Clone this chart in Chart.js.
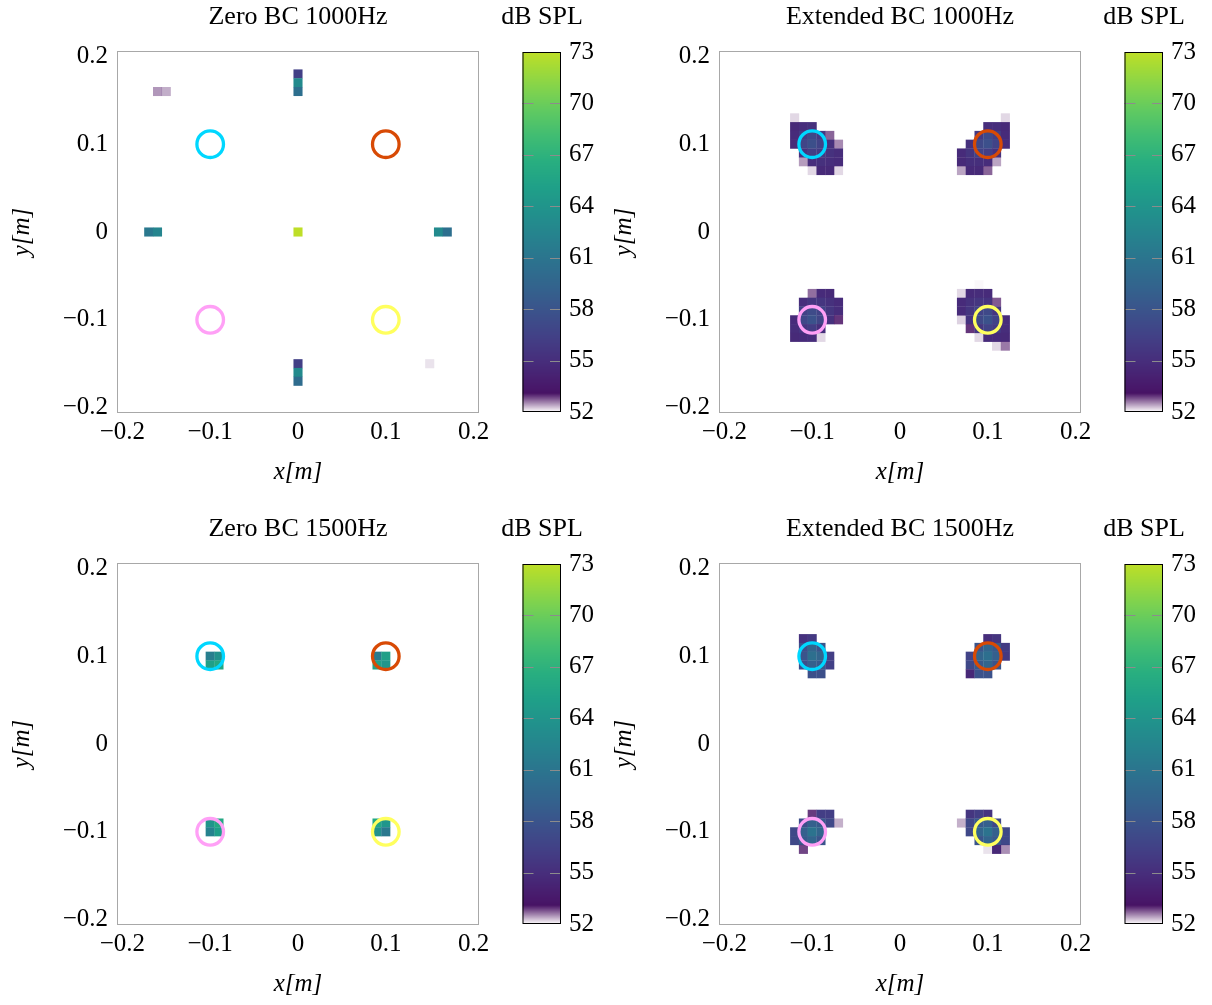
<!DOCTYPE html>
<html><head><meta charset="utf-8">
<script src="https://cdn.jsdelivr.net/npm/chart.js@4.4.0/dist/chart.umd.min.js"></script>
<style>
html,body{margin:0;padding:0;background:#fff;}
#wrap{position:relative;width:1212px;height:1005px;overflow:hidden;background:#fff;}
canvas{position:absolute;}
</style></head><body><div id="wrap"></div>
<script>
// ---- data ----
const axisTicks = [-0.2, -0.1, 0, 0.1, 0.2];
const axisTickLabels = ['−0.2', '−0.1', '0', '0.1', '0.2'];
const colorbarTicks = [52, 55, 58, 61, 64, 67, 70, 73];
const panelTitles = ['Zero BC 1000Hz', 'Extended BC 1000Hz', 'Zero BC 1500Hz', 'Extended BC 1500Hz'];
const sourceX = [-0.1, 0.1, -0.1, 0.1];
const sourceY = [0.1, 0.1, -0.1, -0.1];
const sourceColors = ['#00d7ff', '#d84a05', '#ffa0f6', '#ffff5e'];

// cells: [x, y, dB SPL]
const zeroBC1000 = [
  [0, 0.18, 56.4], [0, 0.17, 63.0], [0, 0.16, 60.5],
  [-0.16, 0.16, 52.46], [-0.15, 0.16, 52.36],
  [-0.17, 0, 61.3], [-0.16, 0, 62.5],
  [0, 0, 73.0],
  [0.16, 0, 63.0], [0.17, 0, 60.5],
  [0, -0.15, 56.4], [0, -0.16, 63.0], [0, -0.17, 60.2],
  [0.15, -0.15, 52.12]
];
const extBC1000 = [
  [-0.12, 0.13, 52.17],
  [-0.12, 0.12, 54.7], [-0.11, 0.12, 55.0], [-0.10, 0.12, 55.2],
  [-0.12, 0.11, 54.8], [-0.11, 0.11, 56.0], [-0.10, 0.11, 57.0], [-0.09, 0.11, 55.8], [-0.08, 0.11, 52.7],
  [-0.12, 0.10, 54.7], [-0.11, 0.10, 56.8], [-0.10, 0.10, 57.6], [-0.09, 0.10, 56.6], [-0.08, 0.10, 55.2], [-0.07, 0.10, 52.52],
  [-0.11, 0.09, 55.3], [-0.10, 0.09, 56.3], [-0.09, 0.09, 56.0], [-0.08, 0.09, 55.3], [-0.07, 0.09, 54.9],
  [-0.11, 0.08, 52.44], [-0.10, 0.08, 55.0], [-0.09, 0.08, 55.2], [-0.08, 0.08, 55.0], [-0.07, 0.08, 54.8],
  [-0.10, 0.07, 52.17], [-0.09, 0.07, 54.7], [-0.08, 0.07, 54.7], [-0.07, 0.07, 52.17],

  [0.12, 0.13, 52.17],
  [0.10, 0.12, 55.0], [0.11, 0.12, 55.0], [0.12, 0.12, 54.7],
  [0.09, 0.11, 55.8], [0.10, 0.11, 57.2], [0.11, 0.11, 56.3], [0.12, 0.11, 54.8],
  [0.08, 0.10, 55.2], [0.09, 0.10, 57.0], [0.10, 0.10, 57.7], [0.11, 0.10, 56.6], [0.12, 0.10, 54.8],
  [0.07, 0.09, 54.8], [0.08, 0.09, 55.5], [0.09, 0.09, 56.6], [0.10, 0.09, 56.2], [0.11, 0.09, 55.2],
  [0.07, 0.08, 54.7], [0.08, 0.08, 55.1], [0.09, 0.08, 55.1], [0.10, 0.08, 54.9], [0.11, 0.08, 52.4],
  [0.07, 0.07, 52.4], [0.08, 0.07, 54.7], [0.09, 0.07, 54.7], [0.10, 0.07, 52.7],

  [-0.10, -0.07, 52.65], [-0.09, -0.07, 54.8], [-0.08, -0.07, 54.7],
  [-0.11, -0.08, 55.0], [-0.10, -0.08, 55.6], [-0.09, -0.08, 55.6], [-0.08, -0.08, 55.2], [-0.07, -0.08, 54.8],
  [-0.11, -0.09, 56.5], [-0.10, -0.09, 57.3], [-0.09, -0.09, 56.6], [-0.08, -0.09, 55.6], [-0.07, -0.09, 54.9],
  [-0.12, -0.10, 54.8], [-0.11, -0.10, 57.0], [-0.10, -0.10, 57.8], [-0.09, -0.10, 56.8], [-0.08, -0.10, 55.2], [-0.07, -0.10, 52.93],
  [-0.12, -0.11, 54.9], [-0.11, -0.11, 55.6], [-0.10, -0.11, 56.1], [-0.09, -0.11, 55.1],
  [-0.12, -0.12, 54.7], [-0.11, -0.12, 54.8], [-0.10, -0.12, 54.9], [-0.09, -0.12, 52.17],

  [0.09, -0.06, 52.03],
  [0.07, -0.07, 52.17], [0.08, -0.07, 54.8], [0.09, -0.07, 54.9], [0.10, -0.07, 54.8],
  [0.07, -0.08, 54.8], [0.08, -0.08, 55.3], [0.09, -0.08, 55.6], [0.10, -0.08, 55.4], [0.11, -0.08, 52.75],
  [0.07, -0.09, 54.8], [0.08, -0.09, 55.6], [0.09, -0.09, 56.6], [0.10, -0.09, 57.1], [0.11, -0.09, 55.6],
  [0.07, -0.10, 52.2], [0.08, -0.10, 55.4], [0.09, -0.10, 57.1], [0.10, -0.10, 57.8], [0.11, -0.10, 56.6], [0.12, -0.10, 54.9],
  [0.08, -0.11, 52.93], [0.09, -0.11, 55.6], [0.10, -0.11, 56.6], [0.11, -0.11, 56.1], [0.12, -0.11, 54.9],
  [0.09, -0.12, 52.17], [0.10, -0.12, 54.8], [0.11, -0.12, 54.8], [0.12, -0.12, 54.7],
  [0.11, -0.13, 52.17], [0.12, -0.13, 52.6]
];
const zeroBC1500 = [
  [-0.10, 0.10, 61.8], [-0.09, 0.10, 63.7], [-0.10, 0.09, 65.1], [-0.09, 0.09, 66.0],
  [0.09, 0.10, 61.5], [0.10, 0.10, 65.0], [0.09, 0.09, 65.3], [0.10, 0.09, 64.2],
  [-0.10, -0.09, 64.1], [-0.09, -0.09, 66.0], [-0.10, -0.10, 62.2], [-0.09, -0.10, 64.9],
  [0.09, -0.09, 66.0], [0.10, -0.09, 64.2], [0.09, -0.10, 63.8], [0.10, -0.10, 61.3]
];
const extBC1500 = [
  [-0.11, 0.12, 55.3], [-0.10, 0.12, 55.8],
  [-0.11, 0.11, 57.5], [-0.10, 0.11, 59.5], [-0.09, 0.11, 58.0],
  [-0.11, 0.10, 58.0], [-0.10, 0.10, 60.5], [-0.09, 0.10, 59.5], [-0.08, 0.10, 56.2],
  [-0.11, 0.09, 57.5], [-0.10, 0.09, 59.0], [-0.09, 0.09, 58.5], [-0.08, 0.09, 56.4],
  [-0.10, 0.08, 57.6], [-0.09, 0.08, 57.6],

  [0.10, 0.12, 55.0], [0.11, 0.12, 55.5],
  [0.09, 0.11, 58.0], [0.10, 0.11, 59.5], [0.11, 0.11, 58.5], [0.12, 0.11, 56.0],
  [0.08, 0.10, 56.6], [0.09, 0.10, 59.5], [0.10, 0.10, 60.5], [0.11, 0.10, 59.0], [0.12, 0.10, 55.8],
  [0.08, 0.09, 57.0], [0.09, 0.09, 58.5], [0.10, 0.09, 59.5], [0.11, 0.09, 58.0],
  [0.08, 0.08, 54.6], [0.09, 0.08, 57.8], [0.10, 0.08, 57.8],

  [-0.10, -0.08, 52.9], [-0.09, -0.08, 56.2], [-0.08, -0.08, 56.2],
  [-0.11, -0.09, 57.5], [-0.10, -0.09, 59.0], [-0.09, -0.09, 58.5], [-0.08, -0.09, 57.0], [-0.07, -0.09, 52.35],
  [-0.12, -0.10, 57.0], [-0.11, -0.10, 59.0], [-0.10, -0.10, 60.8], [-0.09, -0.10, 59.5],
  [-0.12, -0.11, 57.0], [-0.11, -0.11, 58.5], [-0.10, -0.11, 59.5], [-0.09, -0.11, 58.0],
  [-0.11, -0.12, 52.85],

  [0.08, -0.08, 55.6], [0.09, -0.08, 56.2], [0.10, -0.08, 55.4],
  [0.07, -0.09, 52.35], [0.08, -0.09, 57.0], [0.09, -0.09, 58.5], [0.10, -0.09, 59.0], [0.11, -0.09, 57.0],
  [0.08, -0.10, 57.0], [0.09, -0.10, 59.5], [0.10, -0.10, 60.8], [0.11, -0.10, 59.0], [0.12, -0.10, 57.0],
  [0.09, -0.11, 58.0], [0.10, -0.11, 59.5], [0.11, -0.11, 58.5], [0.12, -0.11, 57.0],
  [0.10, -0.12, 52.12], [0.11, -0.12, 54.6], [0.12, -0.12, 52.5]
];
const panelCells = [zeroBC1000, extBC1000, zeroBC1500, extBC1500];

// ---- colour map (viridis, fading to white below 53 dB) ----
const VIRIDIS = ['#440154','#48186a','#472d7b','#424086','#3b528b','#33638d','#2c728e','#26828e',
  '#21918c','#1fa088','#28ae80','#3fbc73','#5ec962','#84d44b','#addc30','#d8e219','#fde725'];
const VRGB = VIRIDIS.map(h => [parseInt(h.slice(1,3),16), parseInt(h.slice(3,5),16), parseInt(h.slice(5,7),16)]);
const CMIN = 52, CMAX = 73;
function cmap(v) {
  const t = Math.min(1, Math.max(0, 0.9 * (v - CMIN) / (CMAX - CMIN)));
  const f = t * 16; const i = Math.min(15, Math.floor(f)); const u = f - i;
  const c = VRGB[i].map((a, k) => Math.round(a + (VRGB[i + 1][k] - a) * u));
  const alpha = Math.min(1, Math.max(0, (v - CMIN) / 1.1));
  return `rgba(${c[0]},${c[1]},${c[2]},${alpha.toFixed(3)})`;
}

Chart.defaults.font.family = "'Liberation Serif', 'DejaVu Serif', serif";
Chart.defaults.font.size = 25;
Chart.defaults.color = '#000';

const framePlugin = {
  id: 'frame',
  afterDraw(chart) {
    const a = chart.chartArea, ctx = chart.ctx;
    ctx.save();
    ctx.strokeStyle = '#a8a8a8'; ctx.lineWidth = 1;
    ctx.strokeRect(Math.round(a.left) - 0.5, Math.round(a.top) - 0.5, Math.round(a.right - a.left) + 1, Math.round(a.bottom - a.top) + 1);
    ctx.restore();
  }
};

const colorbarPlugin = {
  id: 'colorbar',
  afterDraw(chart) {
    const a = chart.chartArea, ctx = chart.ctx, y = chart.scales.y;
    ctx.save();
    for (let py = Math.floor(a.top); py < Math.ceil(a.bottom); py++) {
      ctx.fillStyle = cmap(y.getValueForPixel(py + 0.5));
      ctx.fillRect(a.left, py, a.right - a.left, 1);
    }
    ctx.strokeStyle = '#8c8c8c'; ctx.lineWidth = 1;
    colorbarTicks.slice(1, -1).forEach(v => {
      const py = Math.round(y.getPixelForValue(v)) + 0.5;
      ctx.beginPath();
      ctx.moveTo(a.left, py); ctx.lineTo(a.left + 11, py);
      ctx.moveTo(a.right - 11, py); ctx.lineTo(a.right, py);
      ctx.stroke();
    });
    ctx.strokeStyle = '#000';
    ctx.strokeRect(a.left + 0.5, a.top + 0.5, a.right - a.left - 1, a.bottom - a.top - 1);
    ctx.restore();
  }
};

const wrap = document.getElementById('wrap');
const panelPos = [[0, 0], [602, 0], [0, 512], [602, 512]];

function cellRadius(ctx) {
  const s = ctx.chart.scales.x;
  const w = Math.abs(s.getPixelForValue(0.01) - s.getPixelForValue(0)) + 0.3;
  return w / Math.SQRT2;
}

panelPos.forEach(([L, T], p) => {
  const c = document.createElement('canvas');
  c.width = 500; c.height = 500;
  c.style.left = L + 'px'; c.style.top = T + 'px';
  wrap.appendChild(c);
  const cells = panelCells[p];
  new Chart(c, {
    type: 'scatter',
    data: {
      datasets: [
        {
          label: 'sources', order: 1,
          data: sourceX.map((x, i) => ({ x, y: sourceY[i] })),
          pointStyle: 'circle', pointRadius: 13.3, pointHoverRadius: 13.3,
          pointBorderWidth: 3.3, pointHoverBorderWidth: 3.3,
          pointBackgroundColor: 'rgba(0,0,0,0)', pointBorderColor: sourceColors
        },
        {
          label: 'SPL', order: 2,
          data: cells.map(d => ({ x: d[0], y: d[1], v: d[2] })),
          pointStyle: 'rect', pointRadius: cellRadius, pointHoverRadius: cellRadius,
          pointBorderWidth: 0, pointHoverBorderWidth: 0,
          pointBackgroundColor: ctx => cmap(ctx.raw.v)
        }
      ]
    },
    options: {
      responsive: false, animation: false, events: [],
      layout: { padding: { left: 0, right: 22, top: 0, bottom: 8 } },
      plugins: {
        legend: { display: false }, tooltip: { enabled: false },
        title: { display: true, text: panelTitles[p], fullSize: false, color: '#000',
          font: { size: 26, weight: 'normal' }, padding: { top: 1.5, bottom: 19.3 } }
      },
      scales: {
        x: {
          type: 'linear', min: -0.205, max: 0.205,
          afterBuildTicks: s => { s.ticks = axisTicks.map(v => ({ value: v })); },
          ticks: { callback: (v) => axisTickLabels[axisTicks.indexOf(v)], padding: 5, maxRotation: 0, autoSkip: false, color: '#000' },
          grid: { display: false, drawTicks: false }, border: { display: false },
          title: { display: true, text: 'x[m]', color: '#000', font: { style: 'italic', size: 25 }, padding: { top: 0, bottom: 5 } },
          afterFit: s => { s.height = 80; }
        },
        y: {
          type: 'linear', min: -0.205, max: 0.205,
          afterBuildTicks: s => { s.ticks = axisTicks.map(v => ({ value: v })); },
          ticks: { callback: (v) => axisTickLabels[axisTicks.indexOf(v)], padding: 10, autoSkip: false, color: '#000' },
          grid: { display: false, drawTicks: false }, border: { display: false },
          title: { display: true, text: 'y[m]', color: '#000', font: { style: 'italic', size: 25 }, padding: { top: 7, bottom: 0 } },
          afterFit: s => { s.width = 118; }
        }
      }
    },
    plugins: [framePlugin]
  });

  const cb = document.createElement('canvas');
  cb.width = 120; cb.height = 500;
  cb.style.left = (L + 482) + 'px'; cb.style.top = T + 'px';
  wrap.appendChild(cb);
  new Chart(cb, {
    type: 'scatter',
    data: { datasets: [] },
    options: {
      responsive: false, animation: false, events: [],
      layout: { padding: { left: 0, right: 0, top: 0, bottom: 88 } },
      plugins: {
        legend: { display: false }, tooltip: { enabled: false },
        title: { display: true, text: 'dB SPL', fullSize: true, color: '#000',
          font: { size: 26, weight: 'normal' }, padding: { top: 1.5, bottom: 19.3 } }
      },
      scales: {
        x: { display: false, min: 0, max: 1 },
        yl: {
          position: 'left', display: true, min: CMIN, max: CMAX,
          ticks: { display: false }, grid: { display: false, drawTicks: false }, border: { display: false },
          afterFit: s => { s.width = 40.5; }
        },
        y: {
          position: 'right', min: CMIN, max: CMAX,
          afterBuildTicks: s => { s.ticks = colorbarTicks.map(v => ({ value: v })); },
          ticks: { padding: 8, autoSkip: false, color: '#000' },
          grid: { display: false, drawTicks: false }, border: { display: false },
          afterFit: s => { s.width = 41; }
        }
      }
    },
    plugins: [colorbarPlugin]
  });
});
</script></body></html>
